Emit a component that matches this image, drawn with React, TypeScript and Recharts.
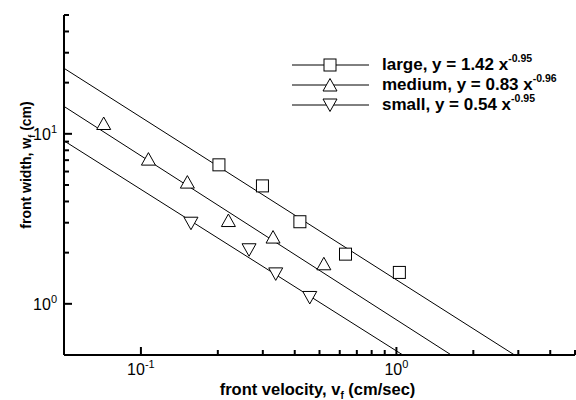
import { ScatterChart, Scatter, XAxis, YAxis, Legend } from "recharts";

const FONT = "'Liberation Sans', Arial, Helvetica, sans-serif";

// measured points (front velocity, front width)
const largeData = [
  { x: 0.202, y: 6.57 },
  { x: 0.299, y: 4.94 },
  { x: 0.419, y: 3.04 },
  { x: 0.632, y: 1.96 },
  { x: 1.027, y: 1.53 },
];
const mediumData = [
  { x: 0.0715, y: 11.5 },
  { x: 0.107, y: 7.1 },
  { x: 0.152, y: 5.2 },
  { x: 0.22, y: 3.09 },
  { x: 0.329, y: 2.47 },
  { x: 0.52, y: 1.72 },
];
const smallData = [
  { x: 0.157, y: 2.98 },
  { x: 0.265, y: 2.08 },
  { x: 0.337, y: 1.5 },
  { x: 0.458, y: 1.09 },
];

// fit line end points
const largeFit = [
  { x: 0.05, y: 24.3 },
  { x: 2.9, y: 0.5 },
];
const mediumFit = [
  { x: 0.05, y: 14.5 },
  { x: 1.64, y: 0.5 },
];
const smallFit = [
  { x: 0.05, y: 9.1 },
  { x: 1.06, y: 0.5 },
];

const xTicks = [0.1, 0.2, 0.3, 0.4, 0.5, 0.6, 0.7, 0.8, 0.9, 1, 2, 3, 4, 5];
const yTicks = [1, 2, 3, 4, 5, 6, 7, 8, 9, 10, 20, 30, 40, 50];
const xMajor = [0.1, 1];
const xExp = ["-1", "0"];
const yMajor = [1, 10];
const yExp = ["0", "1"];

const legendNames = ["large", "medium", "small"];
const legendCoef = ["1.42", "0.83", "0.54"];
const legendExp = ["-0.95", "-0.96", "-0.95"];

const Square = ({ cx, cy }: any) => (
  <rect x={cx - 6} y={cy - 6} width={12} height={12} fill="#fff" stroke="#000" strokeWidth={1} />
);
const TriUp = ({ cx, cy }: any) => (
  <polygon
    points={`${cx},${cy - 6.5} ${cx - 7},${cy + 6} ${cx + 7},${cy + 6}`}
    fill="#fff"
    stroke="#000"
    strokeWidth={1}
  />
);
const TriDown = ({ cx, cy }: any) => (
  <polygon
    points={`${cx - 7},${cy - 6} ${cx + 7},${cy - 6} ${cx},${cy + 6.5}`}
    fill="#fff"
    stroke="#000"
    strokeWidth={1}
  />
);
const markers = [Square, TriUp, TriDown];
const NoDot = () => <g />;

const XTick = (props: any) => {
  const { x, y, payload } = props;
  const i = xMajor.indexOf(payload.value);
  const len = i >= 0 ? 8 : 5;
  return (
    <g>
      <line x1={x} x2={x} y1={y} y2={y - len} stroke="#000" strokeWidth={2} />
      {i >= 0 && (
        <text x={x} y={y + 20} textAnchor="middle" fontFamily={FONT} fontSize={16} fill="#000">
          10
          <tspan dy={-7} fontSize={11}>
            {xExp[i]}
          </tspan>
        </text>
      )}
    </g>
  );
};

const YTick = (props: any) => {
  const { x, y, payload } = props;
  const i = yMajor.indexOf(payload.value);
  const len = i >= 0 ? 8 : 5;
  return (
    <g>
      <line x1={x} x2={x + len} y1={y} y2={y} stroke="#000" strokeWidth={2} />
      {i >= 0 && (
        <text x={x - 7} y={y + 6} textAnchor="end" fontFamily={FONT} fontSize={16} fill="#000">
          10
          <tspan dy={-7} fontSize={11}>
            {yExp[i]}
          </tspan>
        </text>
      )}
    </g>
  );
};

const XTitle = (props: any) => {
  const vb = props.viewBox || { x: 64, y: 355, width: 511, height: 45 };
  return (
    <text
      x={vb.x + vb.width / 2 - 2}
      y={vb.y + 40}
      textAnchor="middle"
      fontFamily={FONT}
      fontWeight="bold"
      fontSize={16.5}
      fill="#000"
    >
      front velocity, v
      <tspan fontSize={10} dy={4}>
        f
      </tspan>
      <tspan dy={-4}> (cm/sec)</tspan>
    </text>
  );
};

const YTitle = (props: any) => {
  const vb = props.viewBox || { x: 0, y: 15, width: 64, height: 340 };
  const cx = vb.x + 31;
  const cy = vb.y + 150;
  return (
    <text
      x={cx}
      y={cy}
      transform={`rotate(-90, ${cx}, ${cy})`}
      textAnchor="middle"
      fontFamily={FONT}
      fontWeight="bold"
      fontSize={14}
      fill="#000"
    >
      front width, w
      <tspan fontSize={9} dy={4}>
        f
      </tspan>
      <tspan dy={-4}> (cm)</tspan>
    </text>
  );
};

const LegendBox = () => (
  <svg width={270} height={70} style={{ display: "block" }}>
    {legendNames.map((name, i) => {
      const y = 15 + i * 20;
      const Mark = markers[i];
      return (
        <g key={name}>
          <line x1={2} x2={79} y1={y} y2={y} stroke="#000" strokeWidth={1} />
          <Mark cx={40} cy={y} />
          <text x={92} y={y + 4.5} fontFamily={FONT} fontWeight="bold" fontSize={17} fill="#000">
            {name}, y = {legendCoef[i]} x
            <tspan dy={-8} fontSize={10.5}>
              {legendExp[i]}
            </tspan>
          </text>
        </g>
      );
    })}
  </svg>
);

export default function App() {
  return (
    <div style={{ position: "absolute", left: 0, top: 0, width: 576, height: 400, background: "#fff" }}>
      <ScatterChart
        width={576}
        height={400}
        margin={{ top: 15, right: 1, bottom: 0, left: 0 }}
        style={{ fontFamily: FONT }}
      >
        <XAxis
          type="number"
          dataKey="x"
          scale="log"
          domain={[0.05, 5]}
          allowDataOverflow
          ticks={xTicks}
          interval={0}
          height={45}
          tickSize={0}
          tickMargin={0}
          tickLine={false}
          tick={<XTick />}
          axisLine={{ stroke: "#000", strokeWidth: 2 }}
          label={<XTitle />}
        />
        <YAxis
          type="number"
          dataKey="y"
          scale="log"
          domain={[0.5, 50]}
          allowDataOverflow
          ticks={yTicks}
          interval={0}
          width={64}
          tickSize={0}
          tickMargin={0}
          tickLine={false}
          tick={<YTick />}
          axisLine={{ stroke: "#000", strokeWidth: 2 }}
          label={<YTitle />}
        />
        <Legend
          layout="vertical"
          align="center"
          verticalAlign="middle"
          wrapperStyle={{ left: 290, top: 50, width: 270 }}
          content={() => <LegendBox />}
        />
        <Scatter data={largeFit} line={{ stroke: "#000", strokeWidth: 1 }} shape={NoDot} legendType="none" isAnimationActive={false} />
        <Scatter data={mediumFit} line={{ stroke: "#000", strokeWidth: 1 }} shape={NoDot} legendType="none" isAnimationActive={false} />
        <Scatter data={smallFit} line={{ stroke: "#000", strokeWidth: 1 }} shape={NoDot} legendType="none" isAnimationActive={false} />
        <Scatter name="large" data={largeData} shape={Square} isAnimationActive={false} />
        <Scatter name="medium" data={mediumData} shape={TriUp} isAnimationActive={false} />
        <Scatter name="small" data={smallData} shape={TriDown} isAnimationActive={false} />
      </ScatterChart>
    </div>
  );
}
